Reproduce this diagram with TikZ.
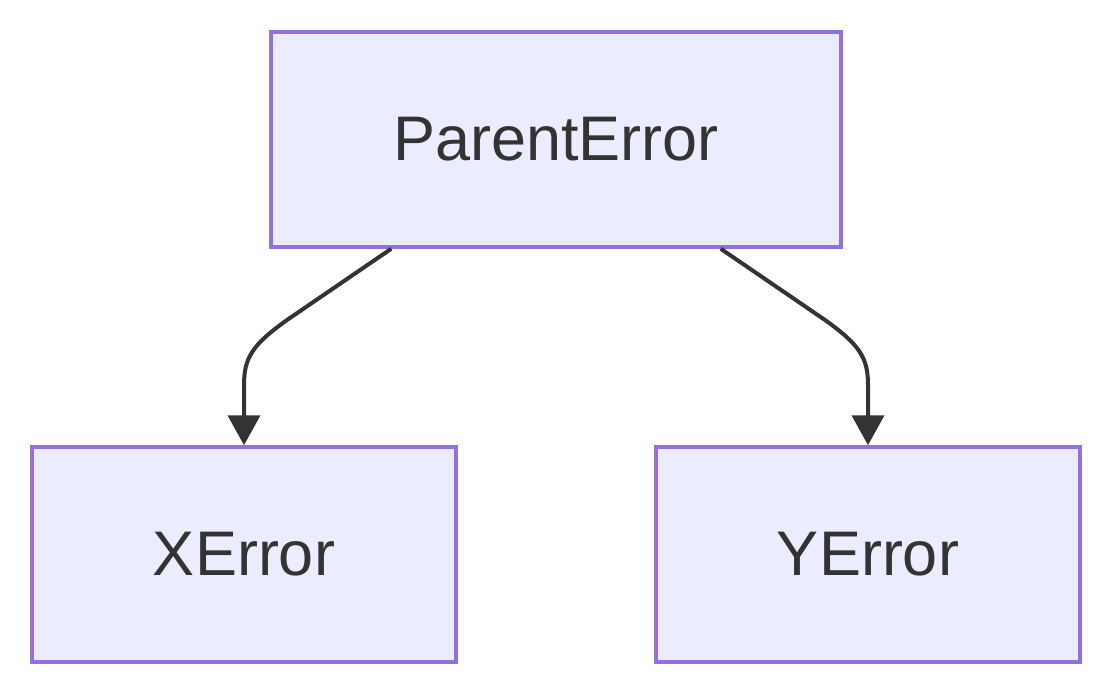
\documentclass[tikz,border=0pt]{standalone}
\usepackage{fontspec}
\setmainfont{Liberation Sans}
\usetikzlibrary{arrows.meta}
\definecolor{boxfill}{HTML}{ECECFF}
\definecolor{boxdraw}{HTML}{9370DB}
\definecolor{ink}{HTML}{333333}
\begin{document}
\begin{tikzpicture}[x=1pt,y=-1pt,
  errbox/.style={draw=boxdraw,fill=boxfill,line width=3.5pt,text=ink,
    font=\fontsize{63}{75}\selectfont,inner sep=0pt},
  edge/.style={draw=ink,line width=4pt,-{Triangle[length=30pt,width=32pt]}}]
\useasboundingbox (0,0) rectangle (1112,696);
\node[errbox,minimum width=570pt,minimum height=215pt] (p) at (556,139.5) {ParentError};
\node[errbox,minimum width=424pt,minimum height=215pt] (x) at (244,554.5) {XError};
\node[errbox,minimum width=424pt,minimum height=215pt] (y) at (868,554.5) {YError};
\draw[edge] (p.south west) ++(122,0) -- (287,320) .. controls (252,345) and (244,358) .. (244,385) -- (x.north);
\draw[edge] (p.south east) ++(-122,0) -- (825,320) .. controls (860,345) and (868,358) .. (868,385) -- (y.north);
\end{tikzpicture}
\end{document}
